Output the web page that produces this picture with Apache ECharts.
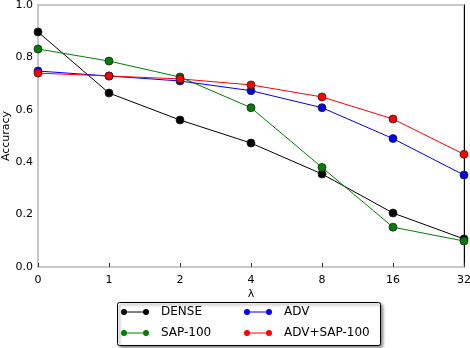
<!DOCTYPE html>
<html>
<head>
<meta charset="utf-8">
<script src="https://cdn.jsdelivr.net/npm/echarts@6/dist/echarts.min.js"></script>
<style>
  html, body { margin: 0; padding: 0; background: #fff; }
  #main { width: 470px; height: 348px; }
</style>
</head>
<body>
<div id="main"></div>
<script>
  // lambda values on the x axis
  var lambdas = ['0', '1', '2', '4', '8', '16', '32'];
  var yTicks = [0, 0.2, 0.4, 0.6, 0.8, 1.0];

  var dense = [0.897, 0.664, 0.561, 0.473, 0.355, 0.206, 0.107];
  var sap100 = [0.832, 0.786, 0.725, 0.608, 0.380, 0.152, 0.099];
  var adv = [0.748, 0.729, 0.710, 0.673, 0.608, 0.490, 0.351];
  var advSap = [0.740, 0.729, 0.718, 0.695, 0.649, 0.565, 0.430];

  var names = ['DENSE', 'SAP-100', 'ADV', 'ADV+SAP-100'];
  var colors = ['#000000', '#007f00', '#0000ff', '#ff0000'];
  var values = [dense, sap100, adv, advSap];

  var font = 'DejaVu Sans';
  // two dots joined by a thin line
  var legendIcon = 'path://M0,4a3,3 0 1,0 6,0a3,3 0 1,0 -6,0z M6,3.6h16v0.8h-16z M22,4a3,3 0 1,0 6,0a3,3 0 1,0 -6,0z';

  var chart = echarts.init(document.getElementById('main'));

  var series = [];
  for (var i = 0; i < names.length; i++) {
    series.push({
      name: names[i],
      type: 'line',
      data: values[i],
      symbol: 'circle',
      symbolSize: 8,
      color: colors[i],
      lineStyle: { width: 1, color: colors[i] },
      itemStyle: { color: colors[i], borderColor: '#222', borderWidth: 0.8 },
      animation: false
    });
  }

  var legendBase = {
    orient: 'vertical',
    icon: legendIcon,
    itemWidth: 28,
    itemHeight: 8,
    itemGap: 9,
    padding: 0,
    height: 40,
    itemStyle: { borderWidth: 0 },
    textStyle: { fontFamily: font, fontSize: 12, color: '#000', padding: [0, 0, 0, 7] }
  };

  chart.setOption({
    backgroundColor: '#fff',
    grid: { left: 38, right: 6, top: 5, bottom: 81, outerBoundsMode: 'none', containLabel: false,
      show: true, borderColor: '#c8c8c8', borderWidth: 2 },
    xAxis: {
      type: 'category',
      data: lambdas,
      boundaryGap: false,
      name: 'λ',
      nameLocation: 'middle',
      nameGap: 22,
      nameMoveOverlap: false,
      nameTextStyle: { fontFamily: font, fontSize: 11, color: '#000' },
      axisLine: { lineStyle: { color: '#c8c8c8', width: 2 } },
      axisTick: { inside: true, length: 4, lineStyle: { color: '#333' } },
      axisLabel: { fontFamily: font, fontSize: 11, color: '#000', margin: 8 },
      splitLine: { show: false }
    },
    yAxis: [{
      type: 'value',
      min: 0,
      max: 1,
      interval: 0.2,
      name: 'Accuracy',
      nameLocation: 'middle',
      nameGap: 26,
      nameMoveOverlap: false,
      nameTextStyle: { fontFamily: font, fontSize: 11, color: '#000' },
      axisLine: { show: true, lineStyle: { color: '#c8c8c8', width: 2 } },
      axisTick: { show: false },
      axisLabel: { fontFamily: font, fontSize: 11, color: '#000', margin: 5,
        formatter: function (v) { return v.toFixed(1); } },
      splitLine: { show: false }
    }, {
      type: 'value',
      min: 0,
      max: 1,
      position: 'right',
      axisLine: { show: true, lineStyle: { color: '#000', width: 1 } },
      axisTick: { show: false },
      axisLabel: { show: false },
      splitLine: { show: false }
    }],
    legend: [
      Object.assign({}, legendBase, { data: ['DENSE', 'SAP-100'], left: 121, top: 306 }),
      Object.assign({}, legendBase, { data: ['ADV', 'ADV+SAP-100'], left: 244, top: 306 })
    ],
    graphic: [{
      type: 'rect',
      left: 117,
      top: 302,
      shape: { width: 263, height: 43, r: 2 },
      style: { fill: '#fff', stroke: '#000', lineWidth: 1, shadowBlur: 3, shadowOffsetX: 2, shadowOffsetY: 2, shadowColor: 'rgba(0,0,0,0.45)' },
      z: -1
    }],
    series: series
  });
</script>
</body>
</html>
